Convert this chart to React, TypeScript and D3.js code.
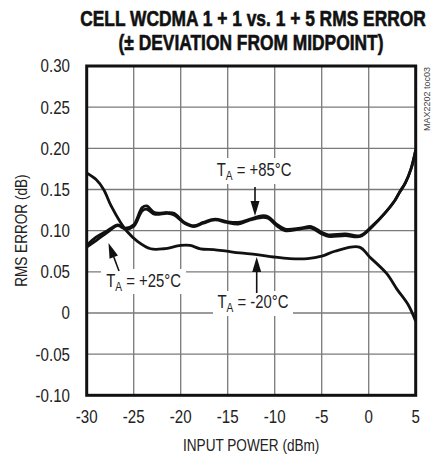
import React from "react";
import * as d3 from "d3";

const xTicks = [-30, -25, -20, -15, -10, -5, 0, 5];
const yTicks = [-0.1, -0.05, 0, 0.05, 0.1, 0.15, 0.2, 0.25, 0.3];
const yTickLabels = ["-0.10", "-0.05", "0", "0.05", "0.10", "0.15", "0.20", "0.25", "0.30"];

const p85X = [-30, -29, -27.8, -26.7, -25.9, -25, -24.1, -23.6, -22.8, -21.4, -20.7, -19.6, -18.6, -17.6, -16.35, -15.1, -13.9, -12.6, -11.4, -10.7, -9.8, -8.9, -7.3, -6.1, -5, -4.3, -2.5, -0.9, 0.3, 1.7, 2.8, 3.3, 3.9, 4.5, 5];
const p85Y = [0.082, 0.092, 0.100, 0.107, 0.103, 0.107, 0.128, 0.130, 0.122, 0.122, 0.121, 0.110, 0.106, 0.110, 0.114, 0.111, 0.110, 0.114, 0.118, 0.117, 0.108, 0.102, 0.103, 0.105, 0.098, 0.095, 0.096, 0.094, 0.105, 0.121, 0.137, 0.147, 0.158, 0.175, 0.198];
const p25X = p85X;
const p25Y = [0.080, 0.088, 0.098, 0.106, 0.102, 0.105, 0.124, 0.126, 0.120, 0.121, 0.119, 0.109, 0.105, 0.109, 0.113, 0.110, 0.108, 0.113, 0.116, 0.115, 0.106, 0.100, 0.102, 0.103, 0.096, 0.093, 0.094, 0.093, 0.104, 0.121, 0.137, 0.147, 0.158, 0.175, 0.198];
const m20X = [-30, -29, -28.2, -27.4, -26.4, -25.7, -24.6, -23.2, -21.8, -20, -19, -17.9, -16.5, -15.1, -13.7, -11.9, -10.1, -8.4, -6.5, -5, -3.6, -1, 0.1, 1.9, 3, 4.2, 5];
const m20Y = [0.170, 0.162, 0.150, 0.130, 0.110, 0.099, 0.087, 0.078, 0.078, 0.082, 0.082, 0.078, 0.077, 0.075, 0.073, 0.071, 0.068, 0.066, 0.066, 0.069, 0.075, 0.080, 0.068, 0.048, 0.029, 0.010, -0.010];

const W = 433, H = 458;
const L = 86.7, R = 415.7, T = 66, B = 395.3;
const FONT = "'Liberation Sans', Arial, sans-serif";

type CTProps = {
  x: number; y: number; size: number; sx: number; anchor?: string; weight?: string;
  rot?: number; fill?: string; children: React.ReactNode; dy?: string; strokeW?: number;
};
function CText({ x, y, size, sx, anchor = "middle", weight = "normal", rot = 0, fill = "#222", children, dy, strokeW = 0 }: CTProps) {
  return (
    <g transform={`translate(${x},${y}) rotate(${rot}) scale(${sx},1)`}>
      <text x={0} y={0} dy={dy} textAnchor={anchor} fontFamily={FONT} fontSize={size} fontWeight={weight} fill={fill}
        stroke={strokeW ? fill : "none"} strokeWidth={strokeW}>
        {children}
      </text>
    </g>
  );
}

export default function App() {
  const x = d3.scaleLinear().domain([-30, 5]).range([L, R]);
  const y = d3.scaleLinear().domain([-0.1, 0.3]).range([B, T]);
  const line = d3.line<[number, number]>()
    .x(d => x(d[0])).y(d => y(d[1]))
    .curve(d3.curveCatmullRom.alpha(0.5));
  const series = [
    p85X.map((v, i) => [v, p85Y[i]] as [number, number]),
    p25X.map((v, i) => [v, p25Y[i]] as [number, number]),
    m20X.map((v, i) => [v, m20Y[i]] as [number, number]),
  ];

  const arrow = (x1: number, y1: number, x2: number, y2: number) => {
    const ang = Math.atan2(y2 - y1, x2 - x1);
    const len = 15, hw = 4.5;
    const bx = x2 - len * Math.cos(ang), by = y2 - len * Math.sin(ang);
    const px = -Math.sin(ang) * hw, py = Math.cos(ang) * hw;
    return (
      <g>
        <line x1={x1} y1={y1} x2={bx} y2={by} stroke="#111" strokeWidth={1.6} />
        <path d={`M${x2},${y2}L${bx + px},${by + py}L${bx - px},${by - py}Z`} fill="#111" />
      </g>
    );
  };

  const label = (cx: number, cy: number, rest: string, rx: number, ry: number, rw: number, rh: number) => (
    <g>
      <rect x={rx} y={ry} width={rw} height={rh} fill="#fff" />
      <CText x={cx} y={cy} size={17.5} sx={0.85}>
        T<tspan fontSize={12} dy={4}>A</tspan><tspan dy={-4}>{rest}</tspan>
      </CText>
    </g>
  );

  return (
    <svg width={W} height={H} style={{ position: "absolute", left: 0, top: 0, background: "#fff" }}>
      <rect x={0} y={0} width={W} height={H} fill="#fff" />
      <CText x={253} y={26} size={22} sx={0.79} weight="bold" fill="#111" strokeW={0.6}>CELL WCDMA 1 + 1 vs. 1 + 5 RMS ERROR</CText>
      <CText x={251} y={50} size={22} sx={0.79} weight="bold" fill="#111" strokeW={0.6}>(± DEVIATION FROM MIDPOINT)</CText>

      {xTicks.map(t => (
        <line key={"gx" + t} x1={x(t)} x2={x(t)} y1={T} y2={B} stroke="#7a7a7a" strokeWidth={1.3} />
      ))}
      {yTicks.map(t => (
        <line key={"gy" + t} x1={L} x2={R} y1={y(t)} y2={y(t)} stroke="#7a7a7a" strokeWidth={1.3} />
      ))}

      {label(254, 176, " = +85°C", 212, 158, 84, 26)}
      {label(143.5, 287, " = +25°C", 101, 269, 85, 25)}
      {label(253, 308, " = -20°C", 213, 291, 80, 25)}

      {series.map((s, i) => (
        <path key={i} d={line(s) || ""} fill="none" stroke="#111" strokeWidth={2.8} strokeLinejoin="round" />
      ))}

      {arrow(255, 187, 255, 216)}
      {arrow(119, 271, 108.5, 243)}
      {arrow(256.7, 293, 256.7, 257)}

      <rect x={L} y={T} width={R - L} height={B - T} fill="none" stroke="#111" strokeWidth={3} />

      {yTicks.map((t, i) => (
        <CText key={"ty" + t} x={70} y={y(t)} dy="0.36em" anchor="end" size={18} sx={0.84}>{yTickLabels[i]}</CText>
      ))}
      {xTicks.map(t => (
        <CText key={"tx" + t} x={x(t)} y={423} size={18} sx={0.84}>{String(t)}</CText>
      ))}
      <CText x={(L + R) / 2} y={451} size={17} sx={0.8}>INPUT POWER (dBm)</CText>
      <CText x={27} y={(T + B) / 2} rot={-90} size={17} sx={0.8}>RMS ERROR (dB)</CText>
      <CText x={430} y={T + 1} rot={-90} anchor="end" size={9} sx={1} fill="#444">MAX2202 toc03</CText>
    </svg>
  );
}
